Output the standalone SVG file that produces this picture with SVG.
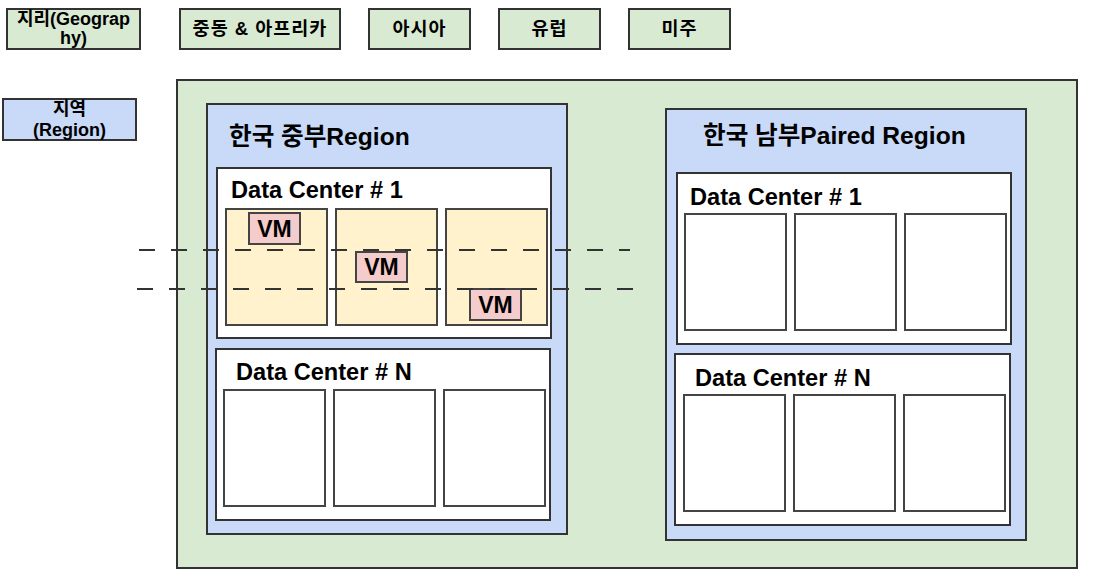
<svg xmlns="http://www.w3.org/2000/svg" width="1096" height="588" viewBox="0 0 1096 588">
<style>
text{font-family:"Liberation Sans","Noto Sans CJK KR",sans-serif;font-weight:bold;fill:#000}
.geo{fill:#d9ead3;stroke:#333;stroke-width:2}
.reg{fill:#c9daf8;stroke:#333;stroke-width:2}
.dc{fill:#fff;stroke:#333;stroke-width:2}
.box{fill:#fff;stroke:#444;stroke-width:2}
.az{fill:#fff2cc;stroke:#444;stroke-width:2}
.vm{fill:#f4cccc;stroke:#444;stroke-width:2}
.lbl{font-size:18px}
.kr{font-size:18.5px;letter-spacing:1px}
.ttl{font-size:24.6px}
.dct{font-size:23.6px}
.vmt{font-size:23px}
.dash{stroke:#333;stroke-width:2;stroke-dasharray:16 16;fill:none}
</style>
<rect width="1096" height="588" fill="#fff"/>
<g id="legend-geography">
<rect class="geo" x="7" y="9" width="133" height="40"/>
<text class="lbl" x="73.5" y="25" text-anchor="middle">지리(Geograp</text>
<text class="lbl" x="73.5" y="44" text-anchor="middle">hy)</text>
</g>
<g id="geo-mea">
<rect class="geo" x="180" y="9" width="160" height="40"/>
<text class="kr" x="260" y="35" text-anchor="middle">중동 &amp; 아프리카</text>
</g>
<g id="geo-asia">
<rect class="geo" x="369" y="9" width="101" height="40"/>
<text class="kr" x="419.5" y="35" text-anchor="middle">아시아</text>
</g>
<g id="geo-europe">
<rect class="geo" x="499" y="9" width="101" height="40"/>
<text class="kr" x="549.5" y="35" text-anchor="middle">유럽</text>
</g>
<g id="geo-americas">
<rect class="geo" x="629" y="9" width="101" height="40"/>
<text class="kr" x="679.5" y="35" text-anchor="middle">미주</text>
</g>
<g id="legend-region">
<rect class="reg" x="3" y="99" width="133" height="41"/>
<text class="lbl" x="69.5" y="115" text-anchor="middle">지역</text>
<text class="lbl" x="69.5" y="136" text-anchor="middle">(Region)</text>
</g>
<g id="geography-asia">
<rect class="geo" x="177" y="80" width="900" height="488"/>
</g>
<g id="region-central">
<rect class="reg" x="207" y="104" width="360" height="430"/>
<text class="ttl" x="229" y="145">한국 중부Region</text>
</g>
<g id="central-dc1">
<rect class="dc" x="217" y="168" width="334" height="170"/>
<text class="dct" x="231" y="198">Data Center # 1</text>
<rect class="az" x="226" y="209" width="101" height="116"/>
<rect class="az" x="336" y="209" width="101" height="116"/>
<rect class="az" x="446" y="209" width="101" height="116"/>
</g>
<g id="vm-1">
<rect class="vm" x="249" y="213" width="51" height="31"/>
<text class="vmt" x="274.5" y="236.5" text-anchor="middle">VM</text>
</g>
<g id="vm-2">
<rect class="vm" x="356" y="252" width="51" height="30"/>
<text class="vmt" x="381.5" y="275" text-anchor="middle">VM</text>
</g>
<g id="vm-3">
<rect class="vm" x="470" y="289" width="51" height="31"/>
<text class="vmt" x="495.5" y="312.5" text-anchor="middle">VM</text>
</g>
<g id="central-dcn">
<rect class="dc" x="216" y="349" width="334" height="171"/>
<text class="dct" x="236" y="380">Data Center # N</text>
<rect class="box" x="224" y="390" width="101" height="116"/>
<rect class="box" x="334" y="390" width="101" height="116"/>
<rect class="box" x="444" y="390" width="101" height="116"/>
</g>
<g id="region-south">
<rect class="reg" x="666" y="109" width="360" height="431"/>
<text class="ttl" x="703" y="144">한국 남부Paired Region</text>
</g>
<g id="south-dc1">
<rect class="dc" x="677" y="173" width="334" height="171"/>
<text class="dct" x="690" y="205">Data Center # 1</text>
<rect class="box" x="685" y="214" width="101" height="116"/>
<rect class="box" x="795" y="214" width="101" height="116"/>
<rect class="box" x="905" y="214" width="101" height="116"/>
</g>
<g id="south-dcn">
<rect class="dc" x="675" y="354" width="335" height="171"/>
<text class="dct" x="695" y="386">Data Center # N</text>
<rect class="box" x="684" y="395" width="101" height="116"/>
<rect class="box" x="794" y="395" width="101" height="116"/>
<rect class="box" x="904" y="395" width="101" height="116"/>
</g>
<g id="connectors">
<line class="dash" x1="139" y1="250" x2="630" y2="250"/>
<line class="dash" x1="137" y1="289" x2="633" y2="289"/>
</g>
</svg>
